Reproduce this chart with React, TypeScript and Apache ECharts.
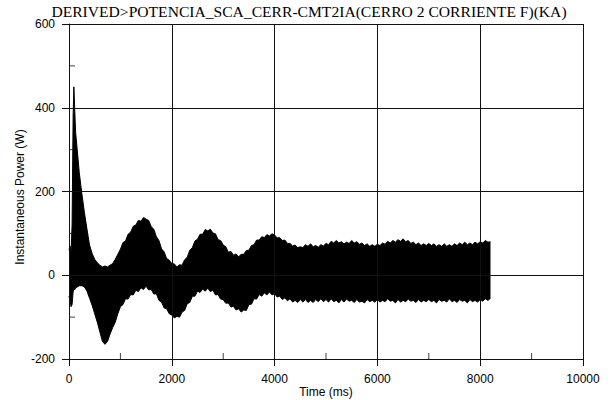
import React, { useEffect, useRef } from "react";
import * as echarts from "echarts";

const titleText = "DERIVED>POTENCIA_SCA_CERR-CMT2IA(CERRO 2 CORRIENTE F)(KA)";
const xAxisName = "Time (ms)";
const yAxisName = "Instantaneous Power (W)";

// irregularly sampled onset (0 - 950 ms)
const onsetTimesMs = [0, 20, 40, 60, 80, 95, 110, 130, 160, 200, 250, 300, 350, 400, 450, 500, 550, 600, 650, 700, 750, 800, 850, 900, 950];
const onsetUpperW = [60, 70, 55, 120, 380, 450, 400, 340, 300, 245, 195, 150, 110, 72, 52, 38, 30, 24, 20, 22, 20, 24, 28, 38, 50];
const onsetLowerW = [-50, -60, -75, -70, -40, -30, -35, -30, -28, -25, -25, -28, -38, -55, -72, -92, -112, -135, -158, -165, -158, -140, -125, -112, -92];

// envelope read every 50 ms from 1000 ms to 8200 ms
const tailStartMs = 1000;
const tailStepMs = 50;
const tailUpperW = [
  62, 78, 82, 98, 103, 117, 120, 131, 129, 138, 134, 131, 116, 110, 92, 83, 63, 56, 40, 36,
  28, 27, 20, 25, 24, 37, 43, 60, 66, 82, 86, 98, 98, 109, 106, 110, 101, 99, 85, 83,
  72, 68, 55, 57, 48, 51, 44, 50, 50, 59, 60, 71, 73, 84, 84, 92, 90, 97, 94, 99,
  96, 89, 90, 83, 84, 76, 76, 70, 72, 66, 68, 66, 73, 69, 75, 68, 71, 67, 73, 70,
  76, 73, 81, 77, 83, 77, 80, 75, 79, 76, 83, 77, 80, 74, 77, 71, 75, 69, 73, 69,
  74, 71, 77, 74, 81, 77, 83, 79, 85, 81, 87, 80, 83, 76, 79, 73, 77, 71, 75, 71,
  76, 71, 75, 69, 73, 69, 75, 69, 73, 69, 75, 71, 77, 73, 79, 73, 77, 73, 79, 75,
  80, 77, 83, 79, 80,
];
const tailLowerW = [
  -75, -70, -56, -57, -46, -47, -36, -39, -30, -34, -26, -35, -34, -45, -44, -60, -64, -78, -80, -92,
  -95, -102, -98, -100, -88, -84, -68, -65, -50, -50, -38, -41, -33, -38, -31, -39, -36, -47, -46, -57,
  -58, -67, -66, -76, -74, -83, -80, -88, -83, -84, -70, -69, -56, -57, -46, -50, -42, -47, -40, -47,
  -44, -52, -50, -58, -54, -61, -56, -64, -60, -65, -58, -64, -58, -65, -60, -65, -58, -63, -56, -63,
  -58, -64, -56, -63, -60, -66, -58, -64, -57, -62, -60, -65, -58, -64, -62, -66, -58, -63, -60, -64,
  -58, -64, -60, -63, -56, -62, -60, -66, -58, -64, -60, -63, -57, -62, -60, -65, -58, -64, -60, -63,
  -58, -63, -60, -66, -58, -62, -60, -64, -56, -63, -60, -65, -58, -62, -60, -66, -58, -63, -60, -64,
  -58, -62, -56, -60, -55,
];

const xMin = 0;
const xMax = 10000;
const xStep = 2000;
const yMin = -200;
const yMax = 600;
const yStep = 200;
const xMinorTicks = [1000, 3000, 5000, 7000, 9000];
const yMinorTicks = [-100, 100, 300, 500];

export default function App() {
  const ref = useRef<HTMLDivElement>(null);
  useEffect(() => {
    if (!ref.current) return;
    const chart = echarts.init(ref.current, null, { renderer: "svg" });
    const tailTimes = tailUpperW.map((_, i) => tailStartMs + i * tailStepMs);
    const timesMs = [...onsetTimesMs, ...tailTimes];
    const upperW = [...onsetUpperW, ...tailUpperW];
    const lowerW = [...onsetLowerW, ...tailLowerW];
    const upperData = timesMs.map((t, i) => [t, upperW[i]]);
    const lowerData = timesMs.map((t, i) => [t, lowerW[i]]);
    const lineColor = "#111";
    const labelStyle = {
      fontFamily: "Liberation Sans",
      fontSize: 12,
      color: "#000",
      margin: 14,
      formatter: (v: number) => String(v),
    };
    chart.setOption({
      animation: false,
      backgroundColor: "#fff",
      grid: { left: 69, right: 30, top: 24, bottom: 41 },
      graphic: [
        {
          type: "text",
          x: 309,
          y: 11,
          style: {
            text: titleText,
            fontFamily: "Liberation Serif",
            fontSize: 15.6,
            fill: "#000",
            align: "center",
            verticalAlign: "middle",
          },
        },
        {
          type: "text",
          x: 326,
          y: 392,
          style: {
            text: xAxisName,
            fontFamily: "Liberation Sans",
            fontSize: 12,
            fill: "#000",
            align: "center",
            verticalAlign: "middle",
          },
        },
        {
          type: "text",
          x: 20,
          y: 197,
          rotation: Math.PI / 2,
          style: {
            text: yAxisName,
            fontFamily: "Liberation Sans",
            fontSize: 12,
            fill: "#000",
            align: "center",
            verticalAlign: "middle",
          },
        },
      ],
      xAxis: {
        type: "value",
        min: xMin,
        max: xMax,
        interval: xStep,
        axisLine: { show: true, onZero: false, lineStyle: { color: lineColor, width: 1 } },
        axisTick: { show: true, inside: false, length: 7, lineStyle: { color: lineColor } },
        splitLine: { show: true, lineStyle: { color: lineColor, width: 1 } },
        axisLabel: labelStyle,
        z: 5,
      },
      yAxis: {
        type: "value",
        min: yMin,
        max: yMax,
        interval: yStep,
        axisLine: { show: true, onZero: false, lineStyle: { color: lineColor, width: 1 } },
        axisTick: { show: true, inside: false, length: 7, lineStyle: { color: lineColor } },
        splitLine: { show: true, lineStyle: { color: lineColor, width: 1 } },
        axisLabel: labelStyle,
        z: 5,
      },
      series: [
        {
          type: "line",
          data: upperData,
          showSymbol: false,
          symbol: "none",
          lineStyle: { color: "#000", width: 1 },
          areaStyle: { color: "#000", opacity: 1, origin: "auto" },
          z: 3,
        },
        {
          type: "line",
          data: lowerData,
          showSymbol: false,
          symbol: "none",
          lineStyle: { color: "#000", width: 1 },
          areaStyle: { color: "#000", opacity: 1, origin: "auto" },
          z: 3,
        },
        {
          type: "scatter",
          data: xMinorTicks.map((t) => [t, yMin]),
          symbol: "rect",
          symbolSize: [1, 6],
          symbolOffset: [0, -3],
          itemStyle: { color: lineColor },
          silent: true,
          clip: false,
          z: 6,
        },
        {
          type: "scatter",
          data: yMinorTicks.map((v) => [xMin, v]),
          symbol: "rect",
          symbolSize: [6, 1],
          symbolOffset: [3, 0],
          itemStyle: { color: lineColor },
          silent: true,
          clip: false,
          z: 6,
        },
      ],
    });
    return () => chart.dispose();
  }, []);
  return (
    <div
      ref={ref}
      style={{ position: "fixed", left: 0, top: 0, width: 613, height: 400, background: "#fff" }}
    />
  );
}
